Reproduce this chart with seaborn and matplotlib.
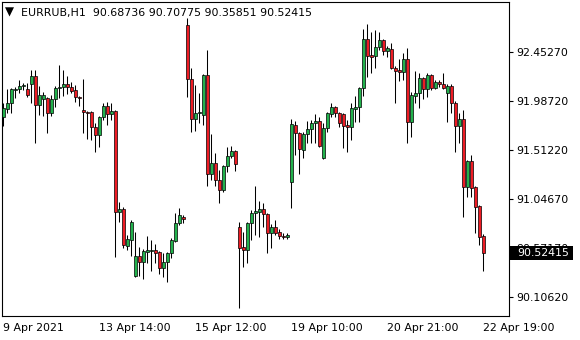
import matplotlib
matplotlib.use("Agg")
import numpy as np
import pandas as pd
import seaborn as sns
import matplotlib.pyplot as plt
from matplotlib.patches import Rectangle
from matplotlib.transforms import blended_transform_factory

# ---------------- data (EURRUB, H1) ----------------
opens = [91.830, 91.907, 91.964, 92.089, 92.099, 92.128, 92.099, 92.147, 92.224, 91.945,
         92.003, 92.012, 91.868, 92.003, 92.108, 92.118, 92.147, 92.118, 92.089, 92.022,
         91.897, 91.878, 91.878, 91.735, 91.658, 91.830, 91.936, 91.859, 91.887, 90.921,
         90.949, 90.595, 90.652, 90.308, 90.499, 90.442, 90.537, 90.546, 90.556, 90.537,
         90.384, 90.442, 90.527, 90.643, 90.815, 90.873, 92.711, 92.195, 91.811, 91.868,
         91.849, 92.233, 91.285, 91.389, 91.227, 91.131, 91.361, 91.457, 91.504, 90.777,
         90.585, 90.556, 90.815, 90.911, 90.921, 90.949, 90.901, 90.719, 90.777, 90.729,
         90.691, 90.681, 91.208, 91.754, 91.677, 91.514, 91.668, 91.716, 91.773, 91.792,
         91.437, 91.725, 91.859, 91.926, 91.868, 91.859, 91.754, 91.735, 91.907, 91.926,
         92.108, 92.578, 92.424, 92.414, 92.501, 92.568, 92.462, 92.482, 92.300, 92.281,
         92.261, 92.386, 91.783, 92.032, 92.060, 92.204, 92.099, 92.233, 92.108, 92.166,
         92.147, 92.060, 92.128, 91.964, 91.745, 91.811, 91.160, 91.409, 91.160, 90.978,
         90.68736]
highs = [91.964, 92.099, 92.108, 92.118, 92.185, 92.156, 92.156, 92.281, 92.281, 92.128,
         92.070, 92.022, 92.041, 92.128, 92.328, 92.281, 92.224, 92.166, 92.137, 92.032,
         92.195, 91.887, 91.887, 91.773, 91.840, 91.964, 91.974, 91.964, 91.897, 91.016,
         90.968, 90.700, 90.844, 90.729, 90.585, 90.566, 90.691, 90.652, 90.614, 90.546,
         90.527, 90.537, 90.671, 90.911, 90.959, 90.892, 92.779, 92.300, 92.137, 92.060,
         92.243, 92.472, 91.668, 91.485, 91.323, 91.370, 91.543, 91.552, 91.514, 90.825,
         90.729, 90.825, 90.940, 91.170, 91.025, 91.006, 90.911, 90.806, 90.844, 90.758,
         90.719, 90.719, 91.811, 91.792, 91.687, 91.687, 91.792, 91.802, 91.859, 91.830,
         91.773, 91.878, 91.964, 91.936, 91.878, 91.868, 91.802, 91.964, 92.032, 92.118,
         92.674, 92.721, 92.644, 92.664, 92.644, 92.578, 92.510, 92.539, 92.319, 92.386,
         92.443, 92.491, 92.070, 92.271, 92.252, 92.214, 92.252, 92.243, 92.185, 92.185,
         92.252, 92.147, 92.147, 91.984, 91.868, 91.897, 91.418, 91.466, 91.170, 90.988,
         90.70775]
lows = [91.745, 91.868, 91.868, 92.012, 92.060, 92.089, 92.022, 91.964, 91.581, 91.849,
        91.840, 91.677, 91.840, 91.926, 92.012, 92.032, 92.051, 92.060, 91.974, 91.936,
        91.677, 91.620, 91.610, 91.495, 91.543, 91.802, 91.754, 91.802, 90.489, 90.825,
        90.575, 90.556, 90.499, 90.299, 90.308, 90.279, 90.432, 90.355, 90.432, 90.327,
        90.299, 90.250, 90.480, 90.633, 90.796, 90.815, 92.022, 91.687, 91.696, 91.773,
        91.754, 91.170, 91.227, 91.170, 91.006, 91.112, 91.304, 91.437, 91.313, 90.001,
        90.394, 90.432, 90.652, 90.700, 90.681, 90.777, 90.527, 90.575, 90.700, 90.662,
        90.662, 90.662, 90.959, 91.466, 91.285, 91.437, 91.581, 91.581, 91.581, 91.543,
        91.428, 91.687, 91.830, 91.830, 91.735, 91.533, 91.495, 91.610, 91.783, 91.783,
        92.032, 92.214, 92.252, 92.300, 92.472, 92.424, 92.405, 92.290, 91.964, 92.175,
        92.185, 91.581, 91.639, 91.964, 91.916, 92.003, 92.022, 92.089, 92.099, 92.118,
        92.099, 91.783, 91.868, 91.495, 91.581, 90.873, 91.064, 91.064, 90.719, 90.604,
        90.35851]
closes = [91.916, 91.964, 92.099, 92.099, 92.128, 92.137, 92.041, 92.224, 91.945, 92.041,
          92.041, 91.868, 92.003, 92.108, 92.118, 92.147, 92.118, 92.079, 92.022, 92.012,
          91.878, 91.868, 91.735, 91.658, 91.830, 91.936, 91.859, 91.887, 90.921, 90.949,
          90.604, 90.662, 90.825, 90.499, 90.442, 90.546, 90.556, 90.556, 90.527, 90.384,
          90.442, 90.527, 90.652, 90.815, 90.892, 90.854, 92.195, 91.811, 91.868, 91.878,
          92.233, 91.285, 91.389, 91.227, 91.131, 91.361, 91.457, 91.504, 91.380, 90.575,
          90.556, 90.815, 90.911, 90.930, 90.949, 90.901, 90.719, 90.777, 90.719, 90.691,
          90.681, 90.700, 91.764, 91.677, 91.524, 91.668, 91.716, 91.773, 91.792, 91.552,
          91.725, 91.868, 91.926, 91.868, 91.773, 91.745, 91.735, 91.916, 91.926, 92.108,
          92.578, 92.414, 92.405, 92.501, 92.568, 92.462, 92.491, 92.300, 92.271, 92.261,
          92.386, 91.783, 92.041, 92.060, 92.204, 92.099, 92.233, 92.108, 92.166, 92.147,
          92.108, 92.128, 91.964, 91.745, 91.811, 91.160, 91.409, 91.151, 90.968, 90.681,
          90.52415]

price_ticks = [92.45270, 91.98720, 91.51220, 91.04670, 90.57170, 90.10620]
time_tick_pos = [0, 24, 48, 72, 96, 120]
time_tick_labels = ["9 Apr 2021", "13 Apr 14:00", "15 Apr 12:00",
                    "19 Apr 10:00", "20 Apr 21:00", "22 Apr 19:00"]
symbol = "EURRUB,H1"

# ---------------- build ----------------
df = pd.DataFrame({"open": opens, "high": highs, "low": lows, "close": closes})
df["bar"] = np.arange(len(df))
df["bottom"] = df[["open", "close"]].min(axis=1)
df["height"] = (df["close"] - df["open"]).abs()
df["up"] = df["close"] >= df["open"]

sns.set_theme(style="white")
plt.rcParams["font.family"] = ["DejaVu Sans"]

GREEN = "#22b14c"
RED = "#ed1c24"

fig = plt.figure(figsize=(5.8, 3.4), dpi=100)
fig.patch.set_facecolor("white")
ax = fig.add_axes([2 / 580, 24 / 340, 507 / 580, 314 / 340])
ax.set_facecolor("white")

# wicks
ax.vlines(df["bar"], df["low"], df["high"], color="black", linewidth=0.75, zorder=2)
# bodies
colors = list(np.where(df["up"], GREEN, RED))
ax.bar(df["bar"], df["height"], bottom=df["bottom"], width=0.72,
       color=colors, edgecolor="black", linewidth=0.5, zorder=3)

ax.set_xlim(-0.3, 126.45)
ax.set_ylim(89.924, 92.932)

for s in ax.spines.values():
    s.set_visible(True)
    s.set_color("black")
    s.set_linewidth(0.8)

ax.yaxis.tick_right()
ax.set_yticks(price_ticks)
ax.set_yticklabels([f"{v:.5f}" for v in price_ticks])
ax.set_xticks(time_tick_pos)
ax.set_xticklabels(time_tick_labels)
for lbl in ax.get_xticklabels():
    lbl.set_ha("left")
ax.tick_params(axis="both", direction="out", length=3, width=0.8, colors="black",
               labelsize=7.9, pad=2.5)
ax.tick_params(axis="x", pad=2)
ax.grid(False)
ax.set_xlabel("")
ax.set_ylabel("")

# current price marker
last = closes[-1]
tr = blended_transform_factory(ax.transAxes, ax.transData)
px = 0.009578
ax.add_patch(Rectangle((1 + 1.5 / 507, last - 7 * px), 63 / 507, 14 * px,
                       transform=tr, facecolor="black", edgecolor="none",
                       clip_on=False, zorder=10))
ax.text(1 + 8 / 507, last, f"{last:.5f}", transform=tr, color="white",
        fontsize=7.9, ha="left", va="center", clip_on=False, zorder=11)

# header
fig.text(5 / 580, 1 - 12 / 340, "\u25BC", fontsize=8.5, color="black",
         ha="left", va="center")
fig.text(21 / 580, 1 - 13 / 340,
         f"{symbol}  {opens[-1]:.5f} {highs[-1]:.5f} {lows[-1]:.5f} {closes[-1]:.5f}",
         fontsize=7.9, color="black", ha="left", va="center")

fig.savefig("out.png", dpi=100, facecolor="white")
